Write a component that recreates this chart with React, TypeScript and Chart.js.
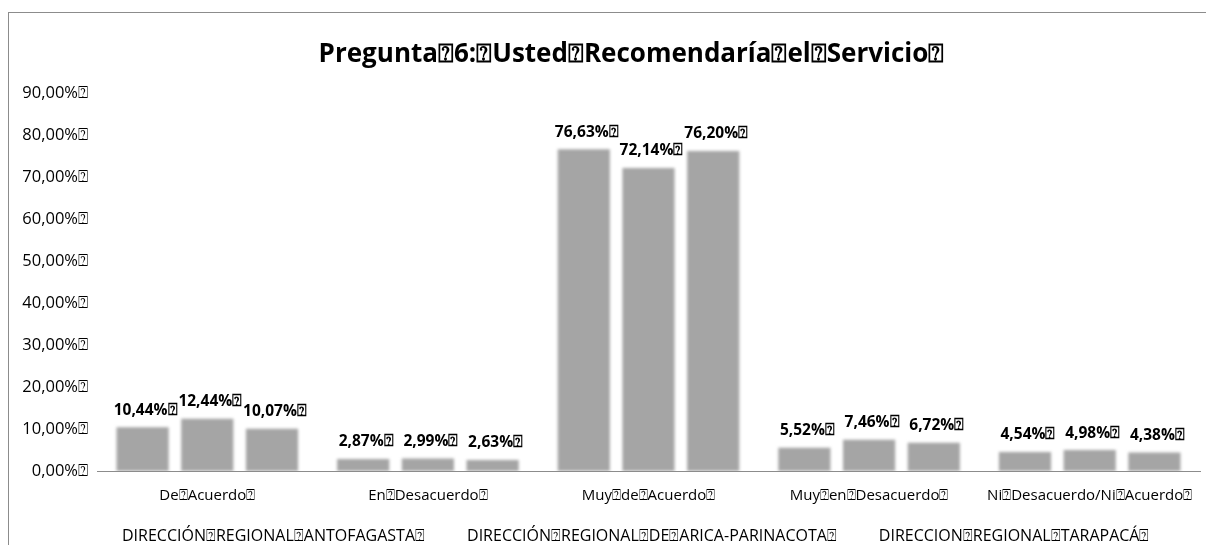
import React, { useEffect, useRef } from "react";
import { Chart, registerables } from "chart.js";

Chart.register(...registerables);

const BOX = "\u2370";
const titleText = "Pregunta 6: Usted Recomendaría el Servicio";
const categories = ["De Acuerdo", "En Desacuerdo", "Muy de Acuerdo", "Muy en Desacuerdo", "Ni Desacuerdo/Ni Acuerdo"];
const seriesNames = [
  "DIRECCIÓN REGIONAL ANTOFAGASTA",
  "DIRECCIÓN REGIONAL DE ARICA-PARINACOTA",
  "DIRECCION REGIONAL TARAPACÁ",
];
const antofagasta = [10.44, 2.87, 76.63, 5.52, 4.54];
const aricaParinacota = [12.44, 2.99, 72.14, 7.46, 4.98];
const tarapaca = [10.07, 2.63, 76.2, 6.72, 4.38];
const yMax = 90;
const yStep = 10;

const boxed = (s: string) => s.split(" ").join(BOX) + BOX;
const pct = (v: number) => v.toFixed(2).replace(".", ",") + "%" + BOX;

const FONT = "'Open Sans', 'DejaVu Sans', sans-serif";

export default function App() {
  const ref = useRef<HTMLCanvasElement | null>(null);
  useEffect(() => {
    document.body.style.overflow = "hidden";
    const canvas = ref.current;
    if (!canvas) return;

    const blurPlugin = {
      id: "blurBars",
      beforeDatasetsDraw(chart: any) {
        chart.ctx.save();
        chart.ctx.filter = "blur(1.5px)";
      },
      afterDatasetsDraw(chart: any) {
        chart.ctx.restore();
      },
    };

    const labelPlugin = {
      id: "valueLabels",
      afterDatasetsDraw(chart: any) {
        const ctx = chart.ctx;
        ctx.save();
        ctx.font = `bold 15.5px ${FONT}`;
        ctx.fillStyle = "#000";
        ctx.textAlign = "center";
        ctx.textBaseline = "middle";
        chart.data.datasets.forEach((ds: any, di: number) => {
          const meta = chart.getDatasetMeta(di);
          meta.data.forEach((el: any, i: number) => {
            ctx.fillText(pct(ds.data[i]), el.x + 3, el.y - 17);
          });
        });
        ctx.restore();
      },
    };

    const textPlugin = {
      id: "titleAndLegend",
      afterDraw(chart: any) {
        const ctx = chart.ctx;
        const area = chart.chartArea;
        ctx.save();
        ctx.fillStyle = "#000";
        ctx.textBaseline = "middle";
        // title
        ctx.font = `bold 26px ${FONT}`;
        ctx.textAlign = "center";
        ctx.fillText(boxed(titleText), (area.left + area.right) / 2 - 17, 42);
        // legend (text only)
        ctx.font = `16px ${FONT}`;
        ctx.textAlign = "left";
        const texts = seriesNames.map(boxed);
        const gap = 42;
        let x = area.left + 25;
        texts.forEach((t) => {
          ctx.fillText(t, x, 523);
          x += ctx.measureText(t).width + gap;
        });
        ctx.restore();
      },
    };

    const chart = new Chart(canvas, {
      type: "bar",
      data: {
        labels: categories.map(boxed),
        datasets: [
          { label: seriesNames[0], data: antofagasta, backgroundColor: "#a5a5a5" },
          { label: seriesNames[1], data: aricaParinacota, backgroundColor: "#a5a5a5" },
          { label: seriesNames[2], data: tarapaca, backgroundColor: "#a5a5a5" },
        ],
      },
      options: {
        animation: false,
        responsive: false,
        maintainAspectRatio: false,
        layout: { padding: { left: 0, right: 14, top: 80, bottom: 0 } },
        datasets: { bar: { categoryPercentage: 0.88, barPercentage: 0.806 } },
        plugins: {
          legend: { display: false },
          tooltip: { enabled: false },
          title: { display: false },
        },
        scales: {
          x: {
            grid: { display: false },
            border: { display: true, color: "#8c8c8c", width: 1 },
            ticks: { color: "#000", font: { family: FONT, size: 15 }, padding: 8, maxRotation: 0, autoSkip: false },
            afterFit(scale: any) {
              scale.height = 74;
            },
          },
          y: {
            min: 0,
            max: yMax,
            grid: { display: false },
            border: { display: false },
            ticks: {
              stepSize: yStep,
              color: "#000",
              font: { family: FONT, size: 16.5 },
              padding: 1,
              callback: (v: any) => pct(Number(v)),
            },
            afterFit(scale: any) {
              scale.width = 88;
            },
          },
        },
      },
      plugins: [blurPlugin, labelPlugin, textPlugin],
    } as any);
    return () => chart.destroy();
  }, []);

  return (
    <div
      style={{
        marginTop: 4,
        width: 1205,
        height: 532,
        borderLeft: "1px solid #8c8c8c",
        borderTop: "1px solid #8c8c8c",
        background: "#fff",
      }}
    >
      <canvas ref={ref} width={1205} height={532} style={{ display: "block" }} />
    </div>
  );
}
